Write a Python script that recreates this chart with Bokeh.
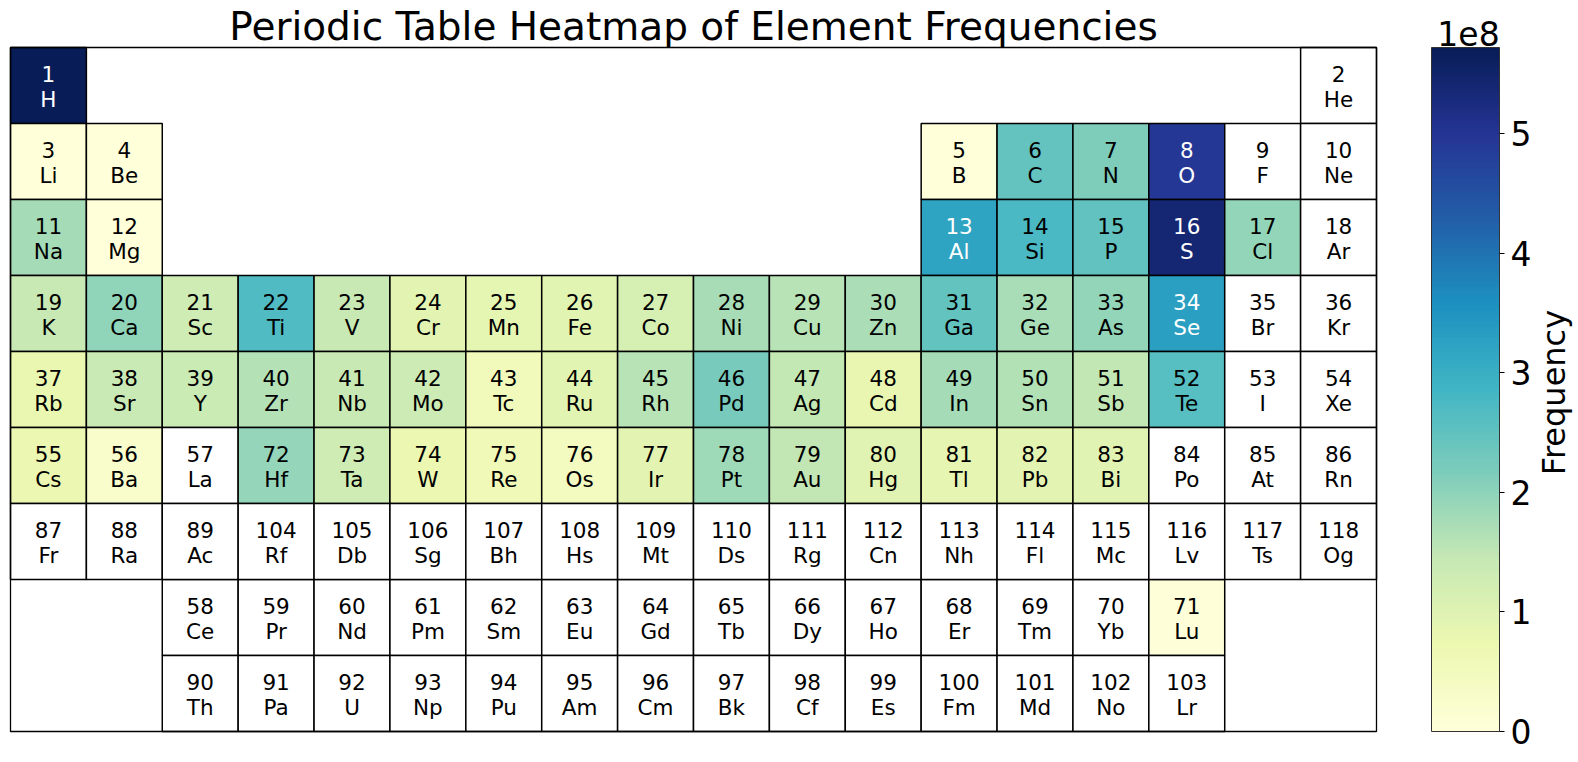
import numpy as np
from bokeh.plotting import figure
from bokeh.models import (ColumnDataSource, LinearColorMapper, ColorBar, FixedTicker,
                          Label, CustomJSTickFormatter, Range1d)
from bokeh.transform import transform
from bokeh.core.properties import value
from bokeh.embed import file_html
from bokeh.resources import INLINE

# ---------------- data ----------------
symbols = [
    "H", "He", "Li", "Be", "B", "C", "N", "O", "F", "Ne",
    "Na", "Mg", "Al", "Si", "P", "S", "Cl", "Ar",
    "K", "Ca", "Sc", "Ti", "V", "Cr", "Mn", "Fe", "Co", "Ni", "Cu", "Zn",
    "Ga", "Ge", "As", "Se", "Br", "Kr",
    "Rb", "Sr", "Y", "Zr", "Nb", "Mo", "Tc", "Ru", "Rh", "Pd", "Ag", "Cd",
    "In", "Sn", "Sb", "Te", "I", "Xe",
    "Cs", "Ba", "La", "Ce", "Pr", "Nd", "Pm", "Sm", "Eu", "Gd", "Tb", "Dy",
    "Ho", "Er", "Tm", "Yb", "Lu", "Hf", "Ta", "W", "Re", "Os", "Ir", "Pt",
    "Au", "Hg", "Tl", "Pb", "Bi", "Po", "At", "Rn",
    "Fr", "Ra", "Ac", "Th", "Pa", "U", "Np", "Pu", "Am", "Cm", "Bk", "Cf",
    "Es", "Fm", "Md", "No", "Lr", "Rf", "Db", "Sg", "Bh", "Hs", "Mt", "Ds",
    "Rg", "Cn", "Nh", "Fl", "Mc", "Lv", "Ts", "Og",
]

# frequency per element, in order of atomic number (1 .. 118)
frequencies = [
    5.72e8, 0,                                                   # H, He
    0.02e8, 0.02e8, 0.02e8, 2.45e8, 2.15e8, 4.95e8, 0, 0,        # Li .. Ne
    1.77e8, 0.02e8, 3.20e8, 2.75e8, 2.50e8, 5.40e8, 1.95e8, 0,   # Na .. Ar
    1.42e8, 1.98e8, 1.30e8, 2.70e8, 1.42e8, 0.90e8, 0.88e8, 0.92e8, 1.15e8,
    1.76e8, 1.60e8, 1.70e8, 2.48e8, 1.73e8, 1.96e8, 3.30e8, 0, 0,  # K .. Kr
    0.80e8, 1.40e8, 1.35e8, 1.63e8, 1.42e8, 1.32e8, 0.55e8, 0.92e8, 1.60e8,
    2.22e8, 1.47e8, 0.82e8, 1.77e8, 1.65e8, 1.48e8, 2.60e8, 0, 0,  # Rb .. Xe
    0.75e8, 0.25e8, 0,                                           # Cs, Ba, La
    0, 0, 0, 0, 0, 0, 0, 0, 0, 0, 0, 0, 0, 0.03e8,               # Ce .. Lu
    1.94e8, 1.30e8, 0.75e8, 0.60e8, 0.45e8, 0.90e8, 1.85e8, 1.48e8,
    0.95e8, 0.87e8, 0.90e8, 0.97e8, 0, 0, 0,                     # Hf .. Rn
    0, 0, 0,                                                     # Fr, Ra, Ac
    0, 0, 0, 0, 0, 0, 0, 0, 0, 0, 0, 0, 0, 0,                    # Th .. Lr
    0, 0, 0, 0, 0, 0, 0, 0, 0, 0, 0, 0, 0, 0, 0,                 # Rf .. Og
]

colorbar_ticks = [0, 1e8, 2e8, 3e8, 4e8, 5e8]
title_text = "Periodic Table Heatmap of Element Frequencies"
colorbar_label = "Frequency"


def table_position(z):
    """(group column, table row) of an element in the standard periodic table layout."""
    if z == 1:
        return 1, 1
    if z == 2:
        return 18, 1
    if z <= 10:
        return (z - 2, 2) if z <= 4 else (z + 8, 2)
    if z <= 18:
        return (z - 10, 3) if z <= 12 else (z, 3)
    if z <= 36:
        return z - 18, 4
    if z <= 54:
        return z - 36, 5
    if 58 <= z <= 71:
        return z - 55, 8
    if 90 <= z <= 103:
        return z - 87, 9
    if z <= 86:
        return (z - 54, 6) if z <= 57 else (z - 68, 6)
    return (z - 86, 7) if z <= 89 else (z - 100, 7)


# ---------------- colormap (YlGnBu) ----------------
anchor_hex = ["#ffffd9", "#edf8b1", "#c7e9b4", "#7fcdbb", "#41b6c4",
              "#1d91c0", "#225ea8", "#253494", "#081d58"]
anchors = np.array([[int(h[i:i + 2], 16) for i in (1, 3, 5)] for h in anchor_hex], float)
tt = np.linspace(0, 1, 256)
xs = np.linspace(0, 1, len(anchors))
cols = np.stack([np.interp(tt, xs, anchors[:, k]) for k in range(3)], 1)
palette = ["#%02x%02x%02x" % tuple(int(round(c)) for c in row) for row in cols]

vmax = max(frequencies)
mapper = LinearColorMapper(palette=palette, low=0, high=vmax, nan_color="white")

numbers = list(range(1, len(symbols) + 1))
pos = [table_position(z) for z in numbers]
gx = [q[0] for q in pos]
gy = [q[1] for q in pos]
src = ColumnDataSource(dict(
    x=gx, y=gy,
    num=[str(z) for z in numbers],
    sym=symbols,
    val=[v if v > 0 else np.nan for v in frequencies],
    tc=["white" if v / vmax > 0.5 else "black" for v in frequencies],
))

# ---------------- layout (pixels) ----------------
W, H = 1576, 760
TL, TT = 10, 47            # table top-left corner on the canvas
CW, CH = 1366 / 18, 76.0   # cell size in px


def px_x(px):
    return 0.5 + (px - TL) / CW


def px_y(py):
    return 0.5 + (py - TT) / CH


FONT = "DejaVu Sans"

p = figure(width=W, height=H,
           x_range=Range1d(px_x(0), px_x(W)), y_range=Range1d(px_y(H), px_y(0)),
           output_backend="svg", toolbar_location=None,
           min_border_left=0, min_border_right=0, min_border_top=0, min_border_bottom=0)
p.axis.visible = False
p.grid.visible = False
p.outline_line_color = None
p.background_fill_color = "white"
p.border_fill_color = "white"

p.rect(x="x", y="y", width=1, height=1, source=src,
       fill_color=transform("val", mapper), line_color="black", line_width=1.5)
p.text(x="x", y="y", text="num", source=src, y_offset=-12,
       text_align="center", text_baseline="middle", text_font_size="21.5px",
       text_font=value(FONT), text_color="tc")
p.text(x="x", y="y", text="sym", source=src, y_offset=13.5,
       text_align="center", text_baseline="middle", text_font_size="21.5px",
       text_font=value(FONT), text_color="tc")

# outer frame of the table (axes spine)
p.quad(left=[min(gx) - 0.5], right=[max(gx) + 0.5], top=[min(gy) - 0.5], bottom=[max(gy) + 0.5],
       fill_color=None, line_color="black", line_width=1.3)

cb = ColorBar(color_mapper=mapper, ticker=FixedTicker(ticks=colorbar_ticks),
              formatter=CustomJSTickFormatter(code="return (tick/1e8).toFixed(0)"),
              width=68, height=684, location=(1431, H - 731), padding=0, margin=0,
              major_tick_in=0, major_tick_out=5, major_tick_line_color="black",
              minor_tick_line_color=None,
              major_label_text_font_size="33px", major_label_text_font=FONT,
              major_label_text_color="black",
              label_standoff=6, bar_line_color="#333333", bar_line_width=1,
              border_line_color=None, background_fill_alpha=0)
p.add_layout(cb)

p.add_layout(Label(x=9.5, y=px_y(25.5), text=title_text,
                   text_align="center", text_baseline="alphabetic",
                   text_font_size="39px", text_font=FONT, text_color="black"))
p.add_layout(Label(x=px_x(1468), y=px_y(32.5), text="1e8", text_align="center",
                   text_baseline="alphabetic", text_font_size="33px", text_font=FONT,
                   text_color="black"))
p.add_layout(Label(x=px_x(1553), y=px_y(392), text=colorbar_label, angle=np.pi / 2,
                   text_align="center", text_baseline="middle",
                   text_font_size="32px", text_font=FONT, text_color="black"))

open("out.html", "w").write(file_html(p, INLINE))
